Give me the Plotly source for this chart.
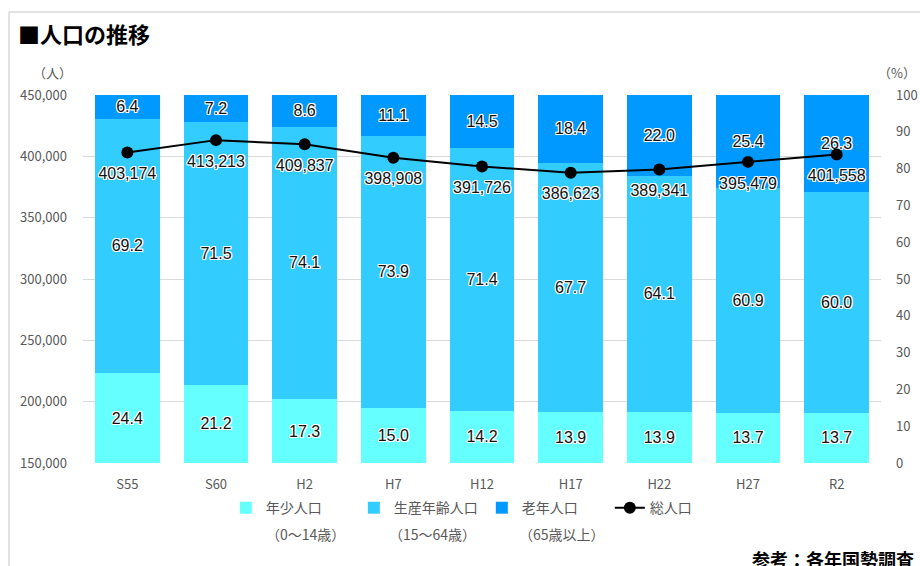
import plotly.graph_objects as go

categories = ["S55", "S60", "H2", "H7", "H12", "H17", "H22", "H27", "R2"]
youth_pct = [24.4, 21.2, 17.3, 15.0, 14.2, 13.9, 13.9, 13.7, 13.7]
working_pct = [69.2, 71.5, 74.1, 73.9, 71.4, 67.7, 64.1, 60.9, 60.0]
elderly_pct = [6.4, 7.2, 8.6, 11.1, 14.5, 18.4, 22.0, 25.4, 26.3]
total_pop = [403174, 413213, 409837, 398908, 391726, 386623, 389341, 395479, 401558]

left_ticks = [150000, 200000, 250000, 300000, 350000, 400000, 450000]
right_ticks = [0, 10, 20, 30, 40, 50, 60, 70, 80, 90, 100]

FONT = "Noto Sans CJK JP"
GREY = "#595959"
OUTLINE = "-1px -1px 0 #fff, 1px -1px 0 #fff, -1px 1px 0 #fff, 1px 1px 0 #fff, 0 1px 0 #fff, 0 -1px 0 #fff, 1px 0 0 #fff, -1px 0 0 #fff"
lab_font = dict(family="Liberation Sans", size=16, color="#111111", shadow=OUTLINE)

fig = go.Figure()
for name, vals, col in [("年少人口", youth_pct, "#66FFFF"),
                        ("生産年齢人口", working_pct, "#33CCFF"),
                        ("老年人口", elderly_pct, "#0099FF")]:
    fig.add_trace(go.Bar(
        x=categories, y=vals, name=name, marker=dict(color=col, line=dict(width=0)),
        text=[f"{v:.1f}" for v in vals], textposition="inside", insidetextanchor="middle",
        textangle=0, constraintext="none", textfont=lab_font, yaxis="y",
        hoverinfo="skip"))

fig.add_trace(go.Scatter(
    x=categories, y=total_pop, name="総人口", yaxis="y2", mode="lines+markers",
    line=dict(color="black", width=2), marker=dict(color="black", size=12)))

# population labels (transparent larger markers to push text a little further below the dots)
fig.add_trace(go.Scatter(
    x=categories, y=total_pop, yaxis="y2", mode="markers+text", showlegend=False,
    marker=dict(color="rgba(0,0,0,0)", size=22),
    text=[f"{v:,}" for v in total_pop], textposition="bottom center",
    textfont=lab_font, cliponaxis=False, hoverinfo="skip"))

fig.update_layout(
    width=920, height=566,
    margin=dict(l=83, r=39, t=95, b=103, autoexpand=False),
    paper_bgcolor="white", plot_bgcolor="white",
    font=dict(family=FONT, color=GREY, size=13),
    barmode="stack", bargap=0.27,
    showlegend=True,
    legend=dict(orientation="h", x=0.179, y=-0.079, xanchor="left", yanchor="top",
                font=dict(size=14, color=GREY, family=FONT), traceorder="normal",
                itemwidth=30, tracegroupgap=0, entrywidth=83),
    xaxis=dict(showgrid=False, showline=False, ticks="", ticklabelstandoff=12,
               range=[-0.5, len(categories) - 0.5],
               automargin=False, tickfont=dict(size=13, color=GREY)),
    yaxis=dict(side="right", range=[0, 100], tickvals=right_ticks, showgrid=False,
               showline=False, ticks="", zeroline=False, ticklabelstandoff=14,
               automargin=False, tickfont=dict(size=13, color=GREY)),
    yaxis2=dict(side="left", overlaying="y", range=[150000, 450000], tickvals=left_ticks,
                tickformat=",", showgrid=True, gridcolor="#D9D9D9", gridwidth=1,
                showline=False, ticks="", zeroline=False, ticklabelstandoff=15,
                automargin=False, tickfont=dict(size=13, color=GREY)),
)

def px(x):
    return (x - 83) / 798

def py(y):
    return (463 - y) / 368

# frame
fig.add_shape(type="line", xref="paper", yref="paper", x0=px(9), x1=px(9),
              y0=py(12), y1=py(600), line=dict(color="#D9D9D9", width=1.5))
fig.add_shape(type="line", xref="paper", yref="paper", x0=px(9), x1=px(930),
              y0=py(12), y1=py(12), line=dict(color="#D9D9D9", width=1.5))

fig.add_annotation(text="■人口の推移", x=px(16), y=py(33), xref="paper", yref="paper",
                   xanchor="left", yanchor="middle", showarrow=False,
                   font=dict(size=22, color="black", family=FONT, weight="bold"))
fig.add_annotation(text="（人）", x=px(52), y=py(72), xref="paper", yref="paper",
                   xanchor="center", yanchor="middle", showarrow=False, font=dict(size=13, color=GREY))
fig.add_annotation(text="（%）", x=px(918), y=py(72), xref="paper", yref="paper",
                   xanchor="right", yanchor="middle", showarrow=False, font=dict(size=13, color=GREY))
for t, x in [("（0〜14歳）", 305), ("（15〜64歳）", 432), ("（65歳以上）", 562)]:
    fig.add_annotation(text=t, x=px(x), y=py(534), xref="paper", yref="paper",
                       xanchor="center", yanchor="middle", showarrow=False,
                       font=dict(size=14, color=GREY))
fig.add_annotation(text="参考：各年国勢調査", x=px(750), y=py(559), xref="paper", yref="paper",
                   xanchor="left", yanchor="middle", showarrow=False,
                   font=dict(size=18, color="black", family=FONT, weight="bold"))

fig.write_html("out.html", config={"displayModeBar": False},
               post_script="document.body.style.margin='0';document.body.style.overflow='hidden';")
